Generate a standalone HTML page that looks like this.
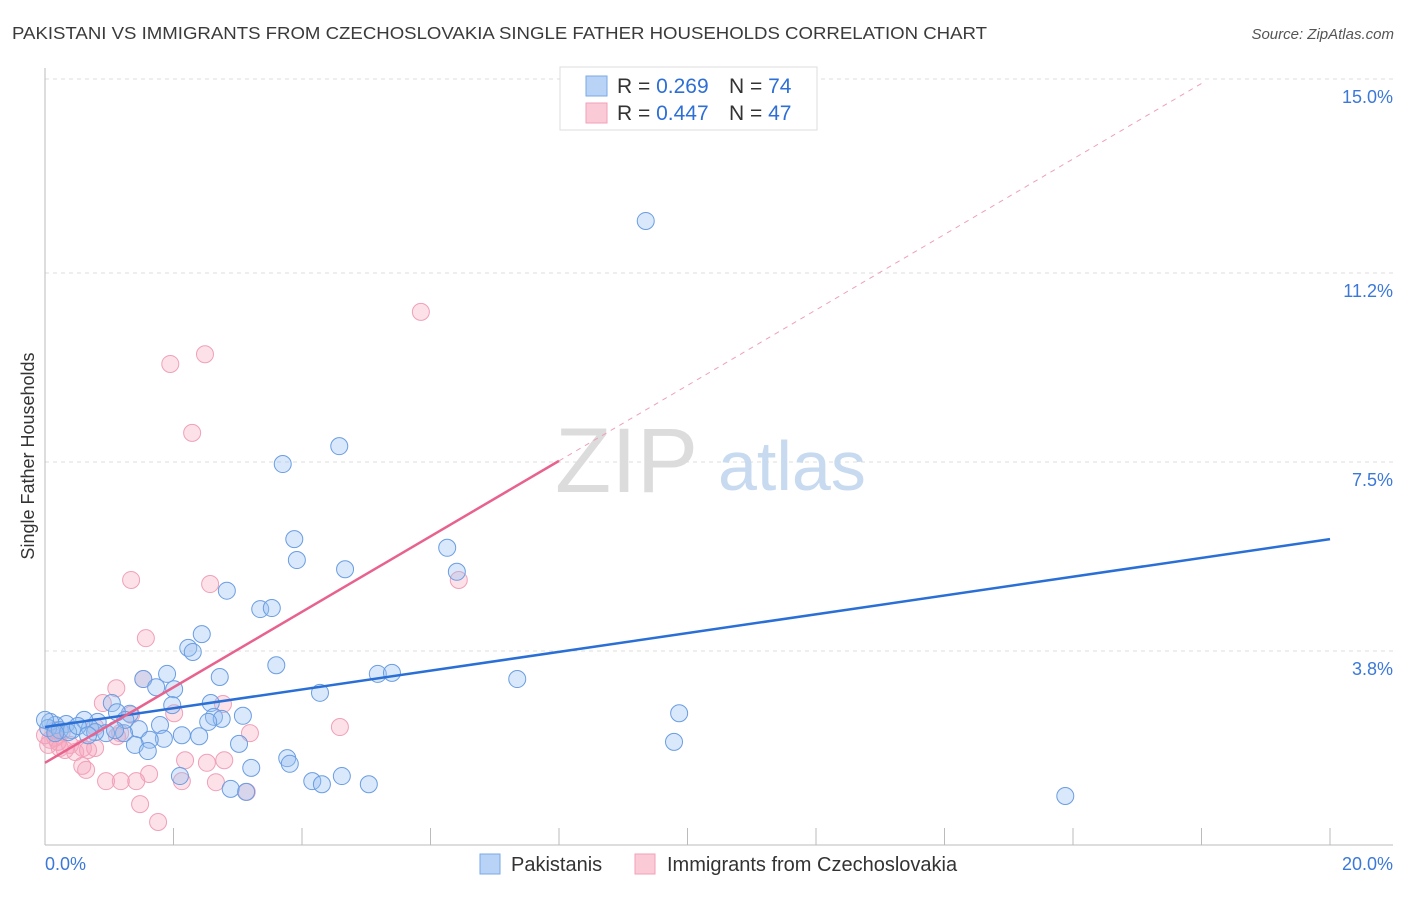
<!DOCTYPE html>
<html><head><meta charset="utf-8"><style>
body{margin:0;background:#fff;font-family:"Liberation Sans",sans-serif;}
svg text{font-family:"Liberation Sans",sans-serif;}
</style></head><body>
<svg id="chart" width="1406" height="892" xmlns="http://www.w3.org/2000/svg">
<text x="12" y="39" font-size="17.5" fill="#3a3a3a" textLength="975" lengthAdjust="spacingAndGlyphs">PAKISTANI VS IMMIGRANTS FROM CZECHOSLOVAKIA SINGLE FATHER HOUSEHOLDS CORRELATION CHART</text>
<text x="1394" y="39" font-size="15" fill="#555" font-style="italic" text-anchor="end">Source: ZipAtlas.com</text>
<g id="grid"></g>
<g id="watermark">
<text x="555" y="492" font-size="92" fill="#dcdcdc" font-family="Liberation Serif, serif">ZIP</text>
<text x="718" y="490" font-size="70" fill="#c8daf0">atlas</text>
</g>
<g id="axes"></g>
<g id="pts"></g>
<g id="lines"></g>
<text transform="translate(34,456) rotate(-90)" font-size="18" fill="#333" text-anchor="middle">Single Father Households</text>
<g>
<rect x="560" y="67" width="257" height="63" fill="#fff" stroke="#ddd"/>
<rect x="586" y="76" width="21" height="20" fill="#b8d3f5" stroke="#7aaae6"/>
<rect x="586" y="103" width="21" height="20" fill="#fbcad7" stroke="#f0a0b8"/>
<text x="617" y="93" font-size="21" fill="#333">R = <tspan fill="#2e6fd6">0.269</tspan><tspan x="729">N = </tspan><tspan fill="#2e6fd6">74</tspan></text>
<text x="617" y="120" font-size="21" fill="#333">R = <tspan fill="#2e6fd6">0.447</tspan><tspan x="729">N = </tspan><tspan fill="#2e6fd6">47</tspan></text>
</g>
<g>
<rect x="480" y="854" width="20" height="20" fill="#b8d3f5" stroke="#7aaae6"/>
<text x="511" y="871" font-size="20" fill="#333">Pakistanis</text>
<rect x="635" y="854" width="20" height="20" fill="#fbcad7" stroke="#f0a0b8"/>
<text x="667" y="871" font-size="20" fill="#333">Immigrants from Czechoslovakia</text>
</g>
</svg>
<script>
const yTicks=[3.8,7.5,11.2,15.0];
const yTickLabels=["3.8%","7.5%","11.2%","15.0%"];
const xTicks=[2,4,6,8,10,12,14,16,18,20];
const blueX=[9.35,4.58,3.70,3.88,3.92,6.26,4.67,6.41,2.83,3.35,3.53,2.44,2.23,2.30,3.60,1.90,2.72,5.18,5.40,7.35,1.53,1.73,2.01,4.28,2.58,1.98,1.04,9.87,3.08,2.63,2.75,1.32,1.12,2.54,1.79,1.46,0.82,0.61,0.33,0.16,0.08,0.05,0.23,0.42,0.70,0.95,1.23,2.13,2.40,1.85,1.63,3.02,1.40,1.60,9.79,3.77,3.81,3.21,2.10,4.16,4.31,4.62,2.89,3.13,5.04,15.88,0.36,0.51,0.78,1.25,0.16,0.00,1.09,0.67];
const blueY=[12.22,7.81,7.46,5.99,5.58,5.82,5.40,5.35,4.98,4.62,4.64,4.13,3.86,3.78,3.52,3.35,3.29,3.35,3.37,3.25,3.25,3.09,3.05,2.98,2.78,2.74,2.78,2.58,2.53,2.51,2.47,2.57,2.60,2.41,2.35,2.27,2.41,2.45,2.37,2.35,2.41,2.29,2.25,2.25,2.29,2.19,2.19,2.15,2.13,2.08,2.06,1.98,1.96,1.84,2.02,1.70,1.59,1.51,1.35,1.25,1.19,1.35,1.10,1.04,1.19,0.96,2.21,2.33,2.21,2.45,2.19,2.45,2.25,2.15];
const pinkX=[5.85,2.49,1.95,2.29,1.34,2.57,6.44,1.57,1.53,1.11,0.90,2.77,1.34,2.01,4.59,3.19,1.12,1.17,0.78,0.26,0.16,0.08,0.05,0.23,0.39,0.59,0.78,0.31,0.47,0.67,0.58,0.64,2.18,2.52,2.79,1.62,0.95,1.18,1.42,2.13,2.66,3.14,1.48,1.76,0.16,0.00,0.20];
const pinkY=[10.44,9.61,9.42,8.07,5.19,5.11,5.19,4.05,3.25,3.07,2.78,2.76,2.55,2.58,2.31,2.19,2.13,2.19,2.31,2.21,2.10,2.06,1.96,1.90,1.96,1.90,1.90,1.86,1.82,1.86,1.55,1.47,1.66,1.61,1.66,1.39,1.25,1.25,1.25,1.25,1.23,1.04,0.80,0.45,2.25,2.15,2.02];
const blueTrend=[2.31,5.99];   // y at x=0 and x=20
const pinkTrend=[1.61,0.739]; // intercept, slope
const NS='http://www.w3.org/2000/svg';
const X0=45,X1=1330,Y0=845,YTOP=79;
const sx=v=>X0+v/20*(X1-X0);
const sy=v=>Y0-v/15*(Y0-YTOP);
function mk(tag,attrs,parent){const e=document.createElementNS(NS,tag);for(const k in attrs)e.setAttribute(k,attrs[k]);parent.appendChild(e);return e;}
const grid=document.getElementById('grid'),axes=document.getElementById('axes'),pts=document.getElementById('pts'),lines=document.getElementById('lines');
yTicks.forEach((t,i)=>{
 const l=mk('line',{x1:X0,x2:1393,y1:sy(t),y2:sy(t),stroke:'#dcdcdc','stroke-dasharray':'4,4'},grid);
 
 
 const tx=mk('text',{x:1393,y:sy(t)+24,'font-size':18,fill:'#3b78d8','text-anchor':'end'},axes);
 tx.textContent=yTickLabels[i];
 
 
});
const ax=mk('line',{x1:X0,x2:X0,y1:68,y2:Y0,stroke:'#bbb'},axes);


const bx=mk('line',{x1:X0,x2:1393,y1:Y0,y2:Y0,stroke:'#bbb'},axes);


xTicks.forEach(t=>{
 const l=mk('line',{x1:sx(t),x2:sx(t),y1:828,y2:Y0,stroke:'#bbb'},axes);
 
 
});
const xl0=mk('text',{x:45,y:870,'font-size':18,fill:'#3b78d8'},axes);xl0.textContent='0.0%';


const xl1=mk('text',{x:1393,y:870,'font-size':18,fill:'#3b78d8','text-anchor':'end'},axes);xl1.textContent='20.0%';


pinkX.forEach((v,i)=>{
 const c=mk('circle',{cx:sx(v),cy:sy(pinkY[i]),r:8.5,fill:'rgba(245,165,188,0.33)',stroke:'#f0a0b8','stroke-width':1},pts);
 
 
});
blueX.forEach((v,i)=>{
 const c=mk('circle',{cx:sx(v),cy:sy(blueY[i]),r:8.5,fill:'rgba(150,190,240,0.36)',stroke:'#6a9de2','stroke-width':1},pts);
 
 
});
const bl=mk('line',{x1:sx(0),y1:sy(blueTrend[0]),x2:sx(20),y2:sy(blueTrend[1]),stroke:'#2a6fd6','stroke-width':2.5},lines);


const pl=mk('line',{x1:sx(0),y1:sy(pinkTrend[0]),x2:sx(8),y2:sy(pinkTrend[0]+pinkTrend[1]*8),stroke:'#e8628e','stroke-width':2.5},lines);


const pd=mk('line',{x1:sx(8),y1:sy(pinkTrend[0]+pinkTrend[1]*8),x2:sx(18),y2:sy(pinkTrend[0]+pinkTrend[1]*18),stroke:'#eea0b8','stroke-width':1,'stroke-dasharray':'5,5'},lines);


</script>
</body></html>
